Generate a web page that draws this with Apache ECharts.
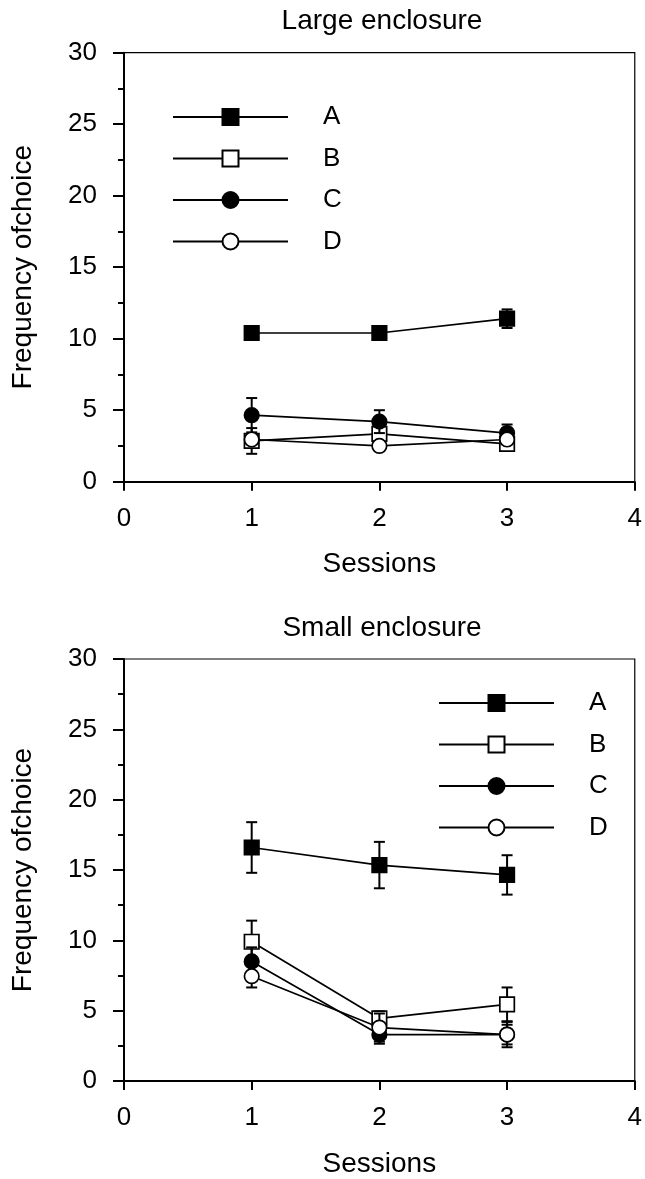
<!DOCTYPE html>
<html><head><meta charset="utf-8">
<script src="https://cdn.jsdelivr.net/npm/echarts@6/dist/echarts.min.js"></script>
<style>html,body{margin:0;padding:0;background:#fff}#c{width:645px;height:1179px}</style>
</head><body><div id="c"></div>
<script>
// ---- data ----
const sessions = [1, 2, 3];
const seriesNames = ['A', 'B', 'C', 'D'];
const panelTitles = ['Large enclosure', 'Small enclosure'];
const xTicks = [0, 1, 2, 3, 4];
const yTicks = [0, 5, 10, 15, 20, 25, 30];

// Large enclosure
const largeA = [10.4, 10.4, 11.4];
const largeAErr = [0.3, 0.3, 0.65];
const largeB = [2.85, 3.35, 2.65];
const largeBErr = [0.9, 0.6, 0.5];
const largeC = [4.65, 4.2, 3.4];
const largeCErr = [1.2, 0.8, 0.6];
const largeD = [2.95, 2.5, 2.95];
const largeDErr = [0.3, 0.3, 0.3];

// Small enclosure
const smallA = [16.6, 15.35, 14.65];
const smallAErr = [1.8, 1.65, 1.4];
const smallB = [9.9, 4.45, 5.45];
const smallBErr = [1.5, 0.5, 1.2];
const smallC = [8.5, 3.3, 3.3];
const smallCErr = [1.0, 0.65, 0.9];
const smallD = [7.45, 3.8, 3.3];
const smallDErr = [0.8, 1.0, 0.7];

const panels = [
  { A: largeA, B: largeB, C: largeC, D: largeD, eA: largeAErr, eB: largeBErr, eC: largeCErr, eD: largeDErr },
  { A: smallA, B: smallB, C: smallC, D: smallD, eA: smallAErr, eB: smallBErr, eC: smallCErr, eD: smallDErr }
];

// ---- styles ----
const FONT = 'Liberation Sans, Arial, Helvetica, sans-serif';
const markerStyle = {
  A: { symbol: 'rect', fill: '#000' },
  B: { symbol: 'rect', fill: '#fff' },
  C: { symbol: 'circle', fill: '#000' },
  D: { symbol: 'circle', fill: '#fff' }
};
const grids = [
  { left: 124, top: 52.7, width: 516, height: 429 },
  { left: 124, top: 659, width: 516, height: 428.5 }
];

function errSeries(name, gi, vals, errs, z) {
  return {
    type: 'custom', name: name + ' error', xAxisIndex: gi, yAxisIndex: gi, z: z, silent: true,
    data: vals.map((v, i) => [sessions[i], v - errs[i], v + errs[i]]),
    encode: { x: 0, y: [1, 2] },
    renderItem: function (params, api) {
      const x = api.value(0);
      const lo = api.coord([x, api.value(1)]);
      const hi = api.coord([x, api.value(2)]);
      const hw = 5.5;
      const st = { stroke: '#000', lineWidth: 2 };
      return { type: 'group', children: [
        { type: 'line', shape: { x1: lo[0], y1: lo[1], x2: hi[0], y2: hi[1] }, style: st },
        { type: 'line', shape: { x1: lo[0] - hw, y1: lo[1], x2: lo[0] + hw, y2: lo[1] }, style: st },
        { type: 'line', shape: { x1: hi[0] - hw, y1: hi[1], x2: hi[0] + hw, y2: hi[1] }, style: st }
      ]};
    }
  };
}
function lineSeries(name, gi, vals, z) {
  const m = markerStyle[name];
  return {
    type: 'line', name: name, xAxisIndex: gi, yAxisIndex: gi, z: z, silent: true,
    data: vals.map((v, i) => [sessions[i], v]),
    symbol: m.symbol, symbolSize: 14.5, showAllSymbol: true,
    lineStyle: { color: '#000', width: 1.7 },
    itemStyle: { color: m.fill, borderColor: '#000', borderWidth: 1.7 },
    emphasis: { disabled: true }
  };
}

const series = [];
panels.forEach((p, gi) => {
  seriesNames.forEach((n, k) => {
    series.push(errSeries(n, gi, p[n], p['e' + n], 2 + k * 2));
    series.push(lineSeries(n, gi, p[n], 3 + k * 2));
  });
});

const axisCommon = {
  axisLine: { show: true, onZero: false, lineStyle: { color: '#000', width: 2 } },
  axisLabel: { fontSize: 26, color: '#000', fontFamily: FONT },
  splitLine: { show: false },
  nameTextStyle: { fontSize: 28, color: '#000', fontFamily: FONT }
};

const option = {
  animation: false,
  textStyle: { fontFamily: FONT },
  grid: grids.map(g => Object.assign({ show: true, borderColor: '#000', borderWidth: 1.2, backgroundColor: 'transparent' }, g)),
  xAxis: grids.map((g, i) => Object.assign({}, axisCommon, {
    type: 'value', gridIndex: i, min: xTicks[0], max: xTicks[xTicks.length - 1], interval: 1,
    name: 'Sessions', nameLocation: 'middle', nameGap: 69,
    axisTick: { show: true, length: 9, lineStyle: { color: '#000', width: 2 } },
    axisLabel: Object.assign({}, axisCommon.axisLabel, { margin: 24 })
  })),
  yAxis: grids.map((g, i) => Object.assign({}, axisCommon, {
    type: 'value', gridIndex: i, min: yTicks[0], max: yTicks[yTicks.length - 1], interval: 5,
    name: 'Frequency ofchoice', nameLocation: 'middle', nameGap: 87,
    axisTick: { show: true, length: 11, lineStyle: { color: '#000', width: 2 } },
    minorTick: { show: true, splitNumber: 2, length: 6, lineStyle: { color: '#000', width: 2 } },
    minorSplitLine: { show: false },
    axisLabel: Object.assign({}, axisCommon.axisLabel, { margin: 27 })
  })),
  legend: [
    { left: 172, top: 104 },
    { left: 438, top: 690 }
  ].map(pos => Object.assign({
    data: seriesNames, orient: 'vertical', padding: 0, selectedMode: false,
    itemWidth: 115, itemHeight: 20, itemGap: 15.5,
    textStyle: { fontSize: 26, color: '#000', fontFamily: FONT, padding: [0, 0, 0, 30] }
  }, pos)),
  graphic: [
    { type: 'text', x: 382, y: 21, silent: true,
      style: { text: panelTitles[0], fill: '#000', font: '28px ' + FONT, textAlign: 'center', textVerticalAlign: 'middle' } },
    { type: 'text', x: 382, y: 628, silent: true,
      style: { text: panelTitles[1], fill: '#000', font: '28px ' + FONT, textAlign: 'center', textVerticalAlign: 'middle' } }
  ],
  series: series
};

const chart = echarts.init(document.getElementById('c'), null, { renderer: 'canvas' });
chart.setOption(option);
</script>
</body></html>
